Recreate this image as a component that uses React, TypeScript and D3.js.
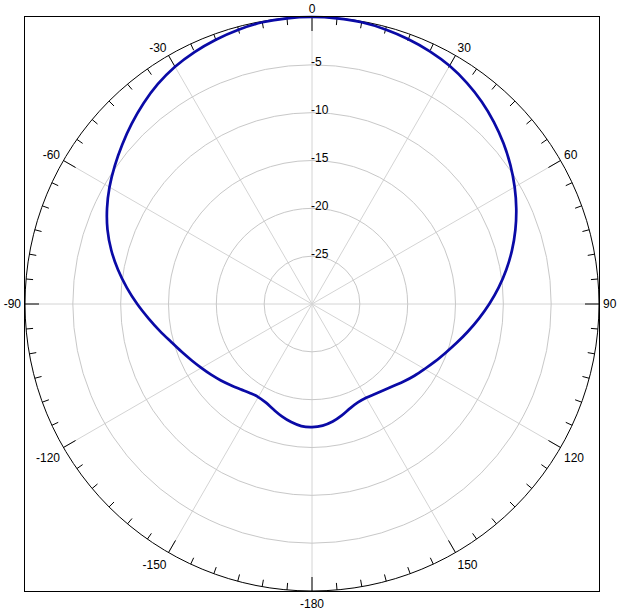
import React from "react";
import * as d3 from "d3";

// Angle (deg, 0 = top, clockwise) and gain (dB)
const angles = [
  -175, -170, -165, -160, -155, -150, -145, -140, -135, -130, -125, -120,
  -115, -110, -105, -100, -95, -90, -85, -80, -75, -70, -65, -60, -55, -50,
  -45, -40, -35, -30, -25, -20, -15, -10, -5, 0, 5, 10, 15, 20, 25, 30, 35,
  40, 45, 50, 55, 60, 65, 70, 75, 80, 85, 90, 95, 100, 105, 110, 115, 120,
  125, 130, 135, 140, 145, 150, 155, 160, 165, 170, 175, 180,
];
const gainDb = [
  -17.19, -17.47, -17.84, -18.26, -18.62, -18.77, -18.65, -18.37, -18.0, -17.57,
  -17.12, -16.64, -16.1, -15.47, -14.74, -13.84, -12.84, -11.73, -10.58, -9.41,
  -8.28, -7.25, -6.36, -5.56, -4.83, -4.1, -3.35, -2.61, -1.92, -1.36, -0.94,
  -0.6, -0.31, -0.1, -0.02, 0, -0.03, -0.1, -0.29, -0.55, -0.86, -1.25, -1.78,
  -2.4, -3.11, -3.87, -4.68, -5.54, -6.44, -7.38, -8.36, -9.38, -10.42, -11.47,
  -12.49, -13.45, -14.34, -15.13, -15.8, -16.41, -16.93, -17.43, -17.9, -18.26,
  -18.52, -18.68, -18.65, -18.39, -17.95, -17.53, -17.24, -17.14,
];

const ringTicks = [-25, -20, -15, -10, -5];
const angleLabels = [0, 30, 60, 90, 120, 150, 180, -150, -120, -90, -60, -30];
const angleLabelText = ["0", "30", "60", "90", "120", "150", "-180", "-150", "-120", "-90", "-60", "-30"];
const spokeAngles = [0, 30, 60, 90, 120, 150, 180, 210, 240, 270, 300, 330];
const dbDomain = [-30, 0];

const W = 631;
const H = 612;
const cx = 312;
const cy = 304;
const R = 287;

export default function App() {
  const r = d3.scaleLinear().domain(dbDomain).range([0, R]);
  const rad = (deg: number) => (deg * Math.PI) / 180;

  const pts = angles.map((a, i) => ({ a, v: gainDb[i] }));
  const line = d3
    .lineRadial<{ a: number; v: number }>()
    .angle((d) => rad(d.a))
    .radius((d) => r(d.v))
    .curve(d3.curveCatmullRomClosed.alpha(0.5));

  const minorTicks = d3.range(0, 360, 5);

  const font = "'Liberation Sans', Arial, sans-serif";

  return (
    <svg
      width={W}
      height={H}
      style={{ position: "absolute", left: 0, top: 0, background: "#fff" }}
    >
      <rect x={0} y={0} width={W} height={H} fill="#fff" />
      <g transform={`translate(${cx},${cy})`}>
        {spokeAngles.map((a) => (
          <line
            key={"s" + a}
            x1={0}
            y1={0}
            x2={R * Math.sin(rad(a))}
            y2={-R * Math.cos(rad(a))}
            stroke="#d4d4d4"
            strokeWidth={1}
          />
        ))}
        {ringTicks.map((v) => (
          <circle key={"r" + v} r={r(v)} fill="none" stroke="#c8c8c8" strokeWidth={1} />
        ))}
        <circle r={R} fill="none" stroke="#000" strokeWidth={1} />
        {minorTicks.map((a) => {
          const len = a % 30 === 0 ? 14 : 7;
          const s = Math.sin(rad(a));
          const c = Math.cos(rad(a));
          return (
            <line
              key={"t" + a}
              x1={R * s}
              y1={-R * c}
              x2={(R - len) * s}
              y2={-(R - len) * c}
              stroke="#000"
              strokeWidth={1}
            />
          );
        })}
        {ringTicks.map((v) => (
          <text
            key={"rl" + v}
            x={-1}
            y={-r(v) + 1.5}
            fontFamily={font}
            fontSize={12}
            fill="#000"
          >
            {v}
          </text>
        ))}
        {angleLabels.map((a, i) => {
          const s = Math.sin(rad(a));
          const c = Math.cos(rad(a));
          const ax = 291 * s;
          const ay = -291 * c;
          const anchor = Math.abs(s) < 0.1 ? "middle" : s > 0 ? "start" : "end";
          let by = ay;
          if (c < -0.1) by = ay + 12.5;
          else if (Math.abs(c) <= 0.1) by = ay + 4.3;
          return (
            <text
              key={"al" + a}
              x={ax}
              y={by}
              textAnchor={anchor}
              fontFamily={font}
              fontSize={12}
              fill="#000"
            >
              {angleLabelText[i]}
            </text>
          );
        })}
        <path d={line(pts) || ""} fill="none" stroke="#0a0aa6" strokeWidth={2.7} />
      </g>
      <rect x={24.5} y={16.5} width={575} height={575} fill="none" stroke="#000" strokeWidth={1} />
    </svg>
  );
}
